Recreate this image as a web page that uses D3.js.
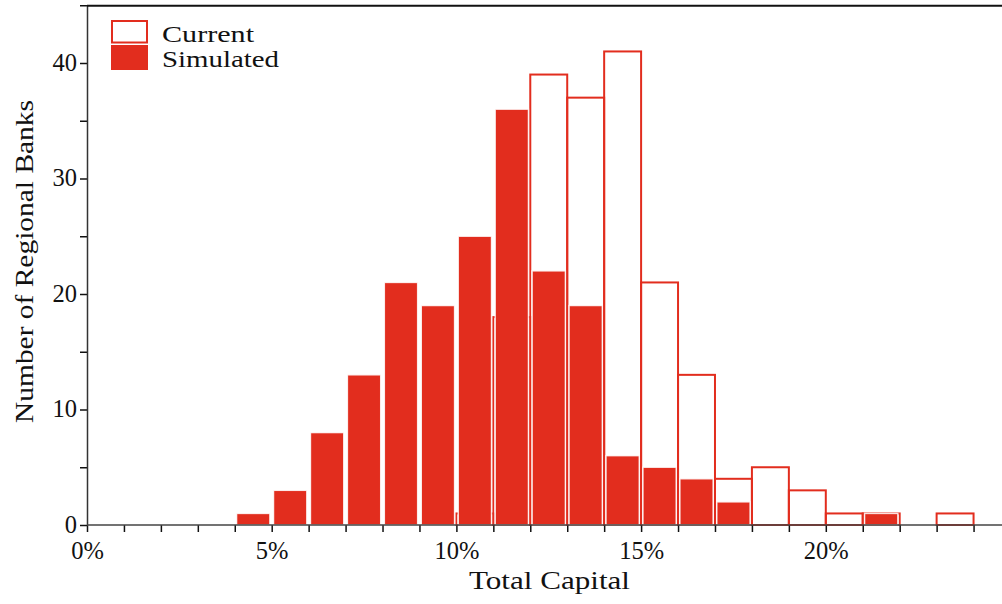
<!DOCTYPE html>
<html>
<head>
<meta charset="utf-8">
<script src="https://cdn.jsdelivr.net/npm/d3@7"></script>
<style>
  html, body { margin: 0; padding: 0; background: #fff; }
  svg { display: block; }
  text { font-family: "Liberation Serif", "Times New Roman", serif; fill: #111; }
</style>
</head>
<body>
<svg id="chart" width="1002" height="604"></svg>
<script>
// Histogram bins: lower edge of each 1-percentage-point bin of total capital
const binLower = [4, 5, 6, 7, 8, 9, 10, 11, 12, 13, 14, 15, 16, 17, 18, 19, 20, 21, 22, 23];
// Number of regional banks per bin
const currentCounts   = [0, 0, 0, 0, 0, 0, 1, 18, 39, 37, 41, 21, 13, 4, 5, 3, 1, 1, 0, 1];
const simulatedCounts = [1, 3, 8, 13, 21, 19, 25, 36, 22, 19, 6, 5, 4, 2, 0, 0, 0, 1, 0, 0];
const binWidth = 1;

const xTicks = d3.range(0, 25, 1);
const xTickLabels = [0, 5, 10, 15, 20];
const yTicks = d3.range(0, 46, 5);
const yTickLabels = [0, 10, 20, 30, 40];

const seriesNames = ["Current", "Simulated"];
const red = "#e22d1e";
const serif = "'Liberation Serif', 'Times New Roman', serif";

const svg = d3.select("#chart");
const W = 1002;

const x = d3.scaleLinear().domain([0, 25]).range([87, 87 + 25 * 36.94]);
const y = d3.scaleLinear().domain([0, 45]).range([525, 5.25]);

// Current distribution: outlined bars, full bin width
svg.append("g")
  .selectAll("rect")
  .data(binLower.map((b, i) => ({ b, v: currentCounts[i] })).filter(d => d.v > 0))
  .join("rect")
  .attr("x", d => x(d.b))
  .attr("y", d => y(d.v))
  .attr("width", d => x(d.b + binWidth) - x(d.b))
  .attr("height", d => y(0) - y(d.v))
  .attr("fill", "none")
  .attr("stroke", red)
  .attr("stroke-width", 2);

// Simulated distribution: filled bars at 90% of bin width, drawn on top
svg.append("g")
  .selectAll("rect")
  .data(binLower.map((b, i) => ({ b, v: simulatedCounts[i] })).filter(d => d.v > 0))
  .join("rect")
  .attr("x", d => x(d.b + 0.05 * binWidth))
  .attr("y", d => y(d.v))
  .attr("width", d => x(d.b + 0.95 * binWidth) - x(d.b + 0.05 * binWidth))
  .attr("height", d => y(0) - y(d.v))
  .attr("fill", red)
  .attr("stroke", "#fff")
  .attr("stroke-width", 1.4)
  .attr("stroke-opacity", 0.85);

// X axis
const gx = svg.append("g")
  .attr("transform", `translate(0,${y(0)})`)
  .call(d3.axisBottom(x)
    .tickValues(xTicks)
    .tickSize(7)
    .tickSizeOuter(0)
    .tickFormat(d => xTickLabels.includes(d) ? d + "%" : ""))
  .attr("font-family", serif)
  .attr("font-size", 24.5);
gx.select(".domain").remove();
gx.selectAll(".tick line").attr("stroke", "#111").attr("stroke-width", 1.5);
gx.selectAll(".tick text")
  .attr("dy", null)
  .attr("y", 34)
  .attr("fill", "#111");

// Y axis
const gy = svg.append("g")
  .attr("transform", `translate(87,0)`)
  .call(d3.axisLeft(y)
    .tickValues(yTicks)
    .tickSize(7)
    .tickSizeOuter(0)
    .tickFormat(d => yTickLabels.includes(d) ? d : ""))
  .attr("font-family", serif)
  .attr("font-size", 24.5);
gy.select(".domain").remove();
gy.selectAll(".tick line").attr("stroke", "#111").attr("stroke-width", 1.5);
gy.selectAll(".tick text")
  .attr("x", -10)
  .attr("dy", "0.3em")
  .attr("fill", "#111");

// Spines: left, bottom and top
svg.append("line")
  .attr("x1", 87.5).attr("x2", 87.5)
  .attr("y1", y(45)).attr("y2", y(0))
  .attr("stroke", "#333").attr("stroke-width", 1.5);
svg.append("line")
  .attr("x1", 87).attr("x2", W)
  .attr("y1", y(0)).attr("y2", y(0))
  .attr("stroke", "#444").attr("stroke-width", 1.5);
svg.append("line")
  .attr("x1", 87).attr("x2", W)
  .attr("y1", y(45) + 0.5).attr("y2", y(45) + 0.5)
  .attr("stroke", "#111").attr("stroke-width", 1.8);

// Axis titles
svg.append("text")
  .attr("x", 549.5)
  .attr("y", 589)
  .attr("text-anchor", "middle")
  .attr("textLength", 161)
  .attr("lengthAdjust", "spacingAndGlyphs")
  .style("font-size", "25.5px")
  .text("Total Capital");

svg.append("text")
  .attr("transform", "translate(33,261.5) rotate(-90)")
  .attr("text-anchor", "middle")
  .attr("textLength", 323)
  .attr("lengthAdjust", "spacingAndGlyphs")
  .style("font-size", "25.5px")
  .text("Number of Regional Banks");

// Legend
const legend = svg.append("g");
legend.append("rect")
  .attr("x", 112).attr("y", 21)
  .attr("width", 35).attr("height", 21.5)
  .attr("fill", "#fff")
  .attr("stroke", red).attr("stroke-width", 2);
legend.append("rect")
  .attr("x", 111).attr("y", 45)
  .attr("width", 37).attr("height", 25)
  .attr("fill", red);
legend.append("text")
  .attr("x", 162).attr("y", 41.5)
  .attr("textLength", 92)
  .attr("lengthAdjust", "spacingAndGlyphs")
  .style("font-size", "22.5px")
  .text(seriesNames[0]);
legend.append("text")
  .attr("x", 162).attr("y", 66.5)
  .attr("textLength", 117)
  .attr("lengthAdjust", "spacingAndGlyphs")
  .style("font-size", "22.5px")
  .text(seriesNames[1]);
</script>
</body>
</html>
